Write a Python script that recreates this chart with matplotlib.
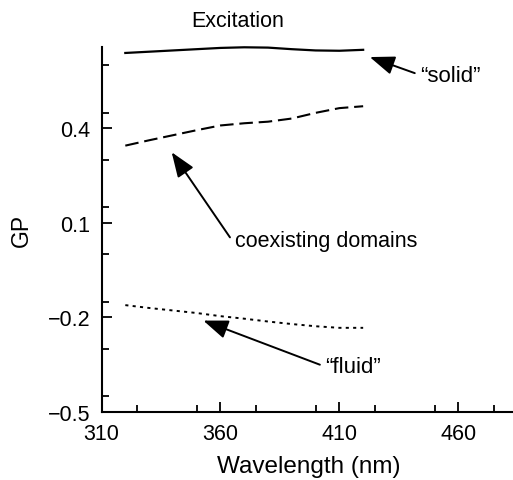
import matplotlib
matplotlib.use("Agg")
import matplotlib.pyplot as plt
from matplotlib.ticker import MultipleLocator

plt.rcParams['font.family'] = ['Liberation Sans', 'DejaVu Sans']

wavelength = [320, 330, 340, 350, 360, 370, 380, 390, 400, 410, 420]
gp_solid = [0.639, 0.643, 0.647, 0.651, 0.655, 0.657, 0.656, 0.651, 0.647, 0.646, 0.649]
gp_coexisting = [0.345, 0.362, 0.378, 0.394, 0.409, 0.416, 0.421, 0.431, 0.449, 0.464, 0.470]
gp_fluid = [-0.161, -0.170, -0.178, -0.186, -0.196, -0.204, -0.213, -0.221, -0.228, -0.233, -0.233]

x_ticks = [310, 360, 410, 460]
y_ticks = [-0.5, -0.2, 0.1, 0.4]
y_tick_labels = ['\u22120.5', '\u22120.2', '0.1', '0.4']

labels = ['\u201csolid\u201d', 'coexisting domains', '\u201cfluid\u201d']

fig = plt.figure(figsize=(5.13, 4.81), dpi=100)
ax = fig.add_axes([0.1979, 0.1414, 0.8021, 0.7582])

ax.plot(wavelength, gp_solid, color='black', lw=1.6, ls='-', clip_on=False)
ax.plot(wavelength, gp_coexisting, color='black', lw=1.5, ls=(0, (6.5, 2.8)), clip_on=False)
ax.plot(wavelength, gp_fluid, color='black', lw=1.4, ls=(0, (1.6, 2.2)), clip_on=False)

ax.set_xlim(310, 483)
ax.set_ylim(-0.5, 0.657)
ax.set_xticks(x_ticks)
ax.set_xticklabels([str(t) for t in x_ticks])
ax.set_yticks(y_ticks)
ax.set_yticklabels(y_tick_labels)
ax.xaxis.set_minor_locator(MultipleLocator(25))
ax.yaxis.set_minor_locator(MultipleLocator(0.15))

for s in ['top', 'right']:
    ax.spines[s].set_visible(False)
for s in ['left', 'bottom']:
    ax.spines[s].set_linewidth(1.5)

ax.tick_params(which='major', direction='in', length=7, width=1.3, labelsize=15.5)
ax.tick_params(axis='x', which='major', pad=8)
ax.tick_params(axis='y', which='major', pad=8)
ax.tick_params(which='minor', direction='in', length=5, width=1.3)

ax.set_xlabel('Wavelength (nm)', fontsize=17.5, va='center')
ax.xaxis.set_label_coords(0.504, -0.148)
ax.set_ylabel('GP', fontsize=16.5, va='center')
ax.yaxis.set_label_coords(-0.195, 0.5)

fig.text(0.463, 0.956, 'Excitation', fontsize=15.5, ha='center', va='center')

arrow_kw = dict(arrowstyle='-|>,head_length=0.95,head_width=0.36', color='black', lw=1.4,
                shrinkA=0, shrinkB=0, mutation_scale=16)

# "solid"
ax.annotate('', xy=(422.8, 0.626), xytext=(441.7, 0.575), arrowprops=arrow_kw, annotation_clip=False)
ax.text(443.8, 0.566, labels[0], fontsize=16, ha='left', va='center')
# coexisting domains
ax.annotate('', xy=(339.5, 0.324), xytext=(364.0, 0.054), arrowprops=arrow_kw)
ax.text(366.0, 0.0425, labels[1], fontsize=15.5, ha='left', va='center')
# "fluid"
ax.annotate('', xy=(352.8, -0.21), xytext=(401.8, -0.35), arrowprops=arrow_kw)
ax.text(403.9, -0.357, labels[2], fontsize=16, ha='left', va='center')

fig.savefig('out.png', dpi=100)
